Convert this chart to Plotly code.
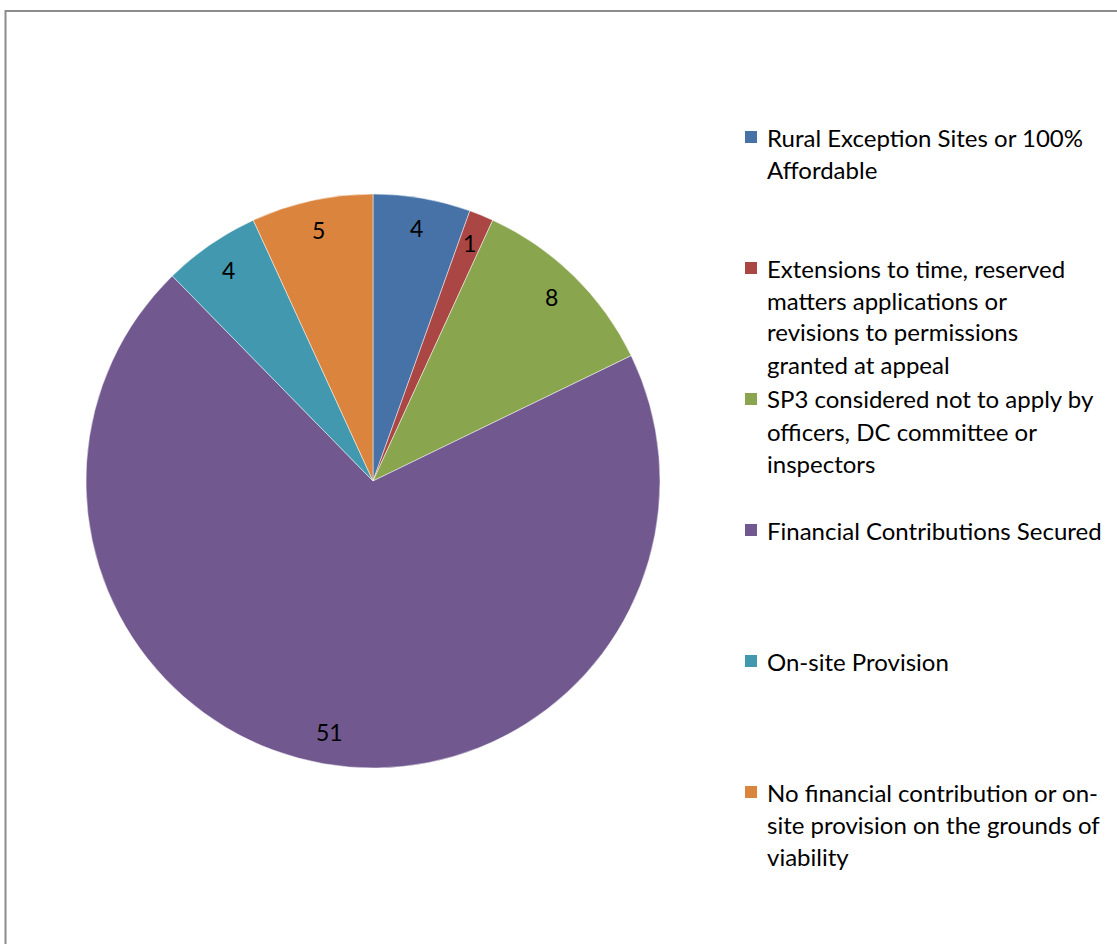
import math
import plotly.graph_objects as go

# ---- data ----
legend_lines = [
    ["Rural Exception Sites or 100%", "Affordable"],
    ["Extensions to time, reserved", "matters applications or",
     "revisions to permissions", "granted at appeal"],
    ["SP3 considered not to apply by", "officers, DC committee or", "inspectors"],
    ["Financial Contributions Secured"],
    ["On-site Provision"],
    ["No financial contribution or on-", "site provision on the grounds of", "viability"],
]
categories = [" ".join(l) for l in legend_lines]
values = [4, 1, 8, 51, 4, 5]
colors = ["#4672A7", "#AA4643", "#89A54E", "#71588F", "#4198AF", "#DB843D"]

# ---- layout constants ----
W, H = 1117, 944
CX, CY, R = 373, 481, 287
FONT = "Lato, Carlito, Calibri, sans-serif"

fig = go.Figure(go.Pie(
    labels=categories,
    values=values,
    sort=False,
    direction="clockwise",
    rotation=0,
    marker=dict(colors=colors, line=dict(color="rgba(255,255,255,0.6)", width=0.8)),
    textinfo="none",
    hoverinfo="label+value",
    showlegend=False,
    domain=dict(x=[(CX - R) / W, (CX + R) / W],
                y=[(H - CY - R) / H, (H - CY + R) / H]),
))

annotations = []
total = sum(values)
cum = 0
for v in values:
    mid = (cum + v / 2) / total * 2 * math.pi
    cum += v
    px = CX + 0.89 * R * math.sin(mid)
    py = CY - 0.89 * R * math.cos(mid)
    annotations.append(dict(
        x=px / W, y=1 - (py - 1) / H, xref="paper", yref="paper",
        text=str(v), showarrow=False, xanchor="center", yanchor="middle",
        font=dict(family=FONT, size=23, color="#000000")))

shapes = [dict(type="rect", xref="paper", yref="paper",
               x0=5.5 / W, x1=1.02, y0=-0.02, y1=1 - 11 / H,
               line=dict(color="#8c8c8c", width=2), fillcolor="rgba(0,0,0,0)")]

first_y = 137
step = 131
line_h = 32
for i, lines in enumerate(legend_lines):
    y0 = first_y + i * step
    shapes.append(dict(type="rect", xref="paper", yref="paper",
                       x0=745 / W, x1=757 / W,
                       y0=1 - (y0 + 6) / H, y1=1 - (y0 - 6) / H,
                       fillcolor=colors[i], line=dict(width=0)))
    for j, t in enumerate(lines):
        yy = y0 + j * line_h
        annotations.append(dict(
            x=765 / W, y=1 - yy / H, xref="paper", yref="paper",
            text=t, showarrow=False, xanchor="left", yanchor="middle",
            font=dict(family=FONT, size=24, color="#000000")))

fig.update_layout(
    width=W, height=H,
    margin=dict(l=0, r=0, t=0, b=0),
    paper_bgcolor="white", plot_bgcolor="white",
    shapes=shapes, annotations=annotations,
)

fig.write_html("out.html")
